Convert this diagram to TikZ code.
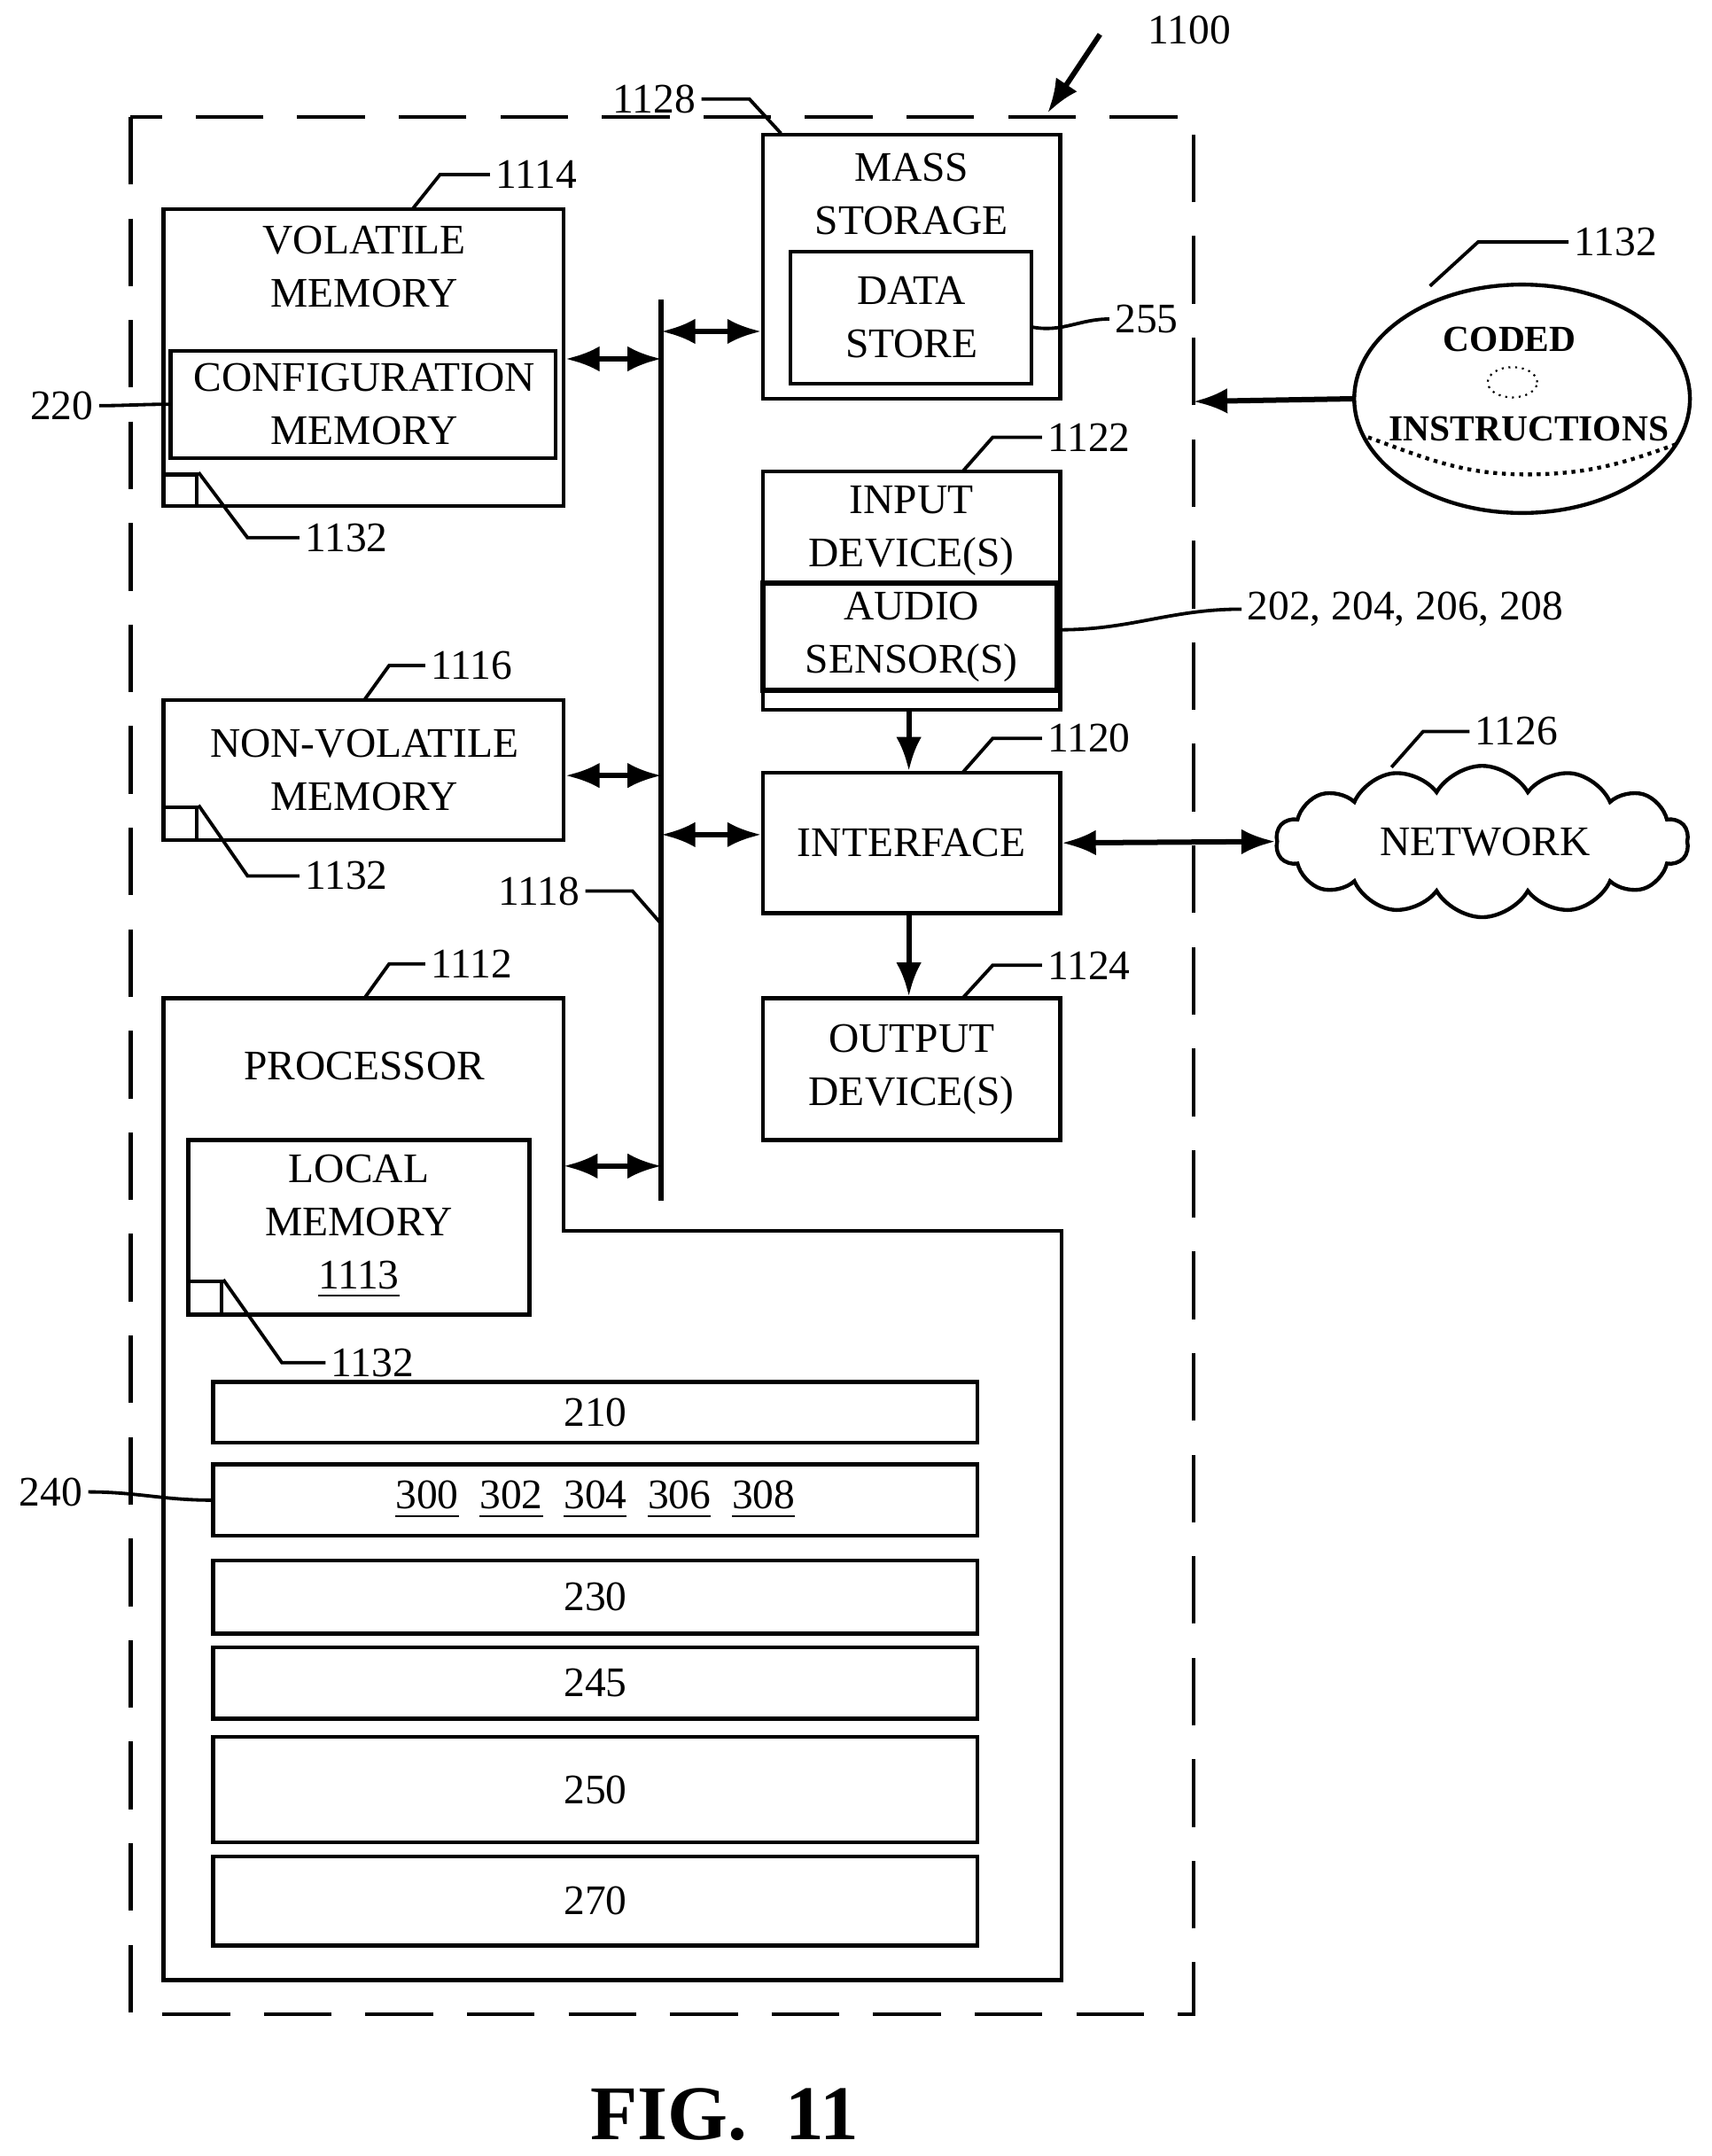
\documentclass[tikz,border=0pt]{standalone}
\usepackage{fontspec}
\setmainfont{Liberation Serif}
\usetikzlibrary{fit,shapes.symbols,shapes.geometric,arrows.meta}
\tikzset{
  box/.style={draw,line width=0.8pt,inner sep=0pt},
  txt/.style={align=center,font=\fontsize{8.7pt}{11pt}\selectfont,inner sep=0pt},
  num/.style={font=\fontsize{8.7pt}{11pt}\selectfont,inner sep=1pt},
  lead/.style={line width=0.7pt},
  dbl/.style={{Latex[length=7pt]}-{Latex[length=7pt]},line width=1.1pt},
  one/.style={-{Latex[length=7pt]},line width=1.1pt}
}
\begin{document}
\begin{tikzpicture}[x=0.01cm,y=-0.01cm]
\useasboundingbox (0,0) rectangle (1245,1568);
% outer boundary
\draw[dash pattern=on 14pt off 7pt,line width=0.8pt] (95,85) rectangle (868,1465);
\node[num] (n1100) at (865,22) {1100};
\coordinate (c1100) at (762,82);
\draw[one] (800,25) -- (c1100);
% volatile memory
\node[box,fit={(119,152)(410,368)}] (vol) {};
\node[txt] (voltxt) at (265,194) {VOLATILE\\MEMORY};
\node[box,fit={(124,255)(404,333)}] (cfg) {};
\node[txt] (cfgtxt) at (265,294) {CONFIGURATION\\MEMORY};
\node[box,fit={(119,345)(143,368)}] (sq1) {};
\node[num] (n1114) at (390,127) {1114};
\draw[lead] (300,152) -- (320,127) -- (n1114.west);
\node[num] (n220) at (45,295) {220};
\draw[lead] (n220.east) to[out=0,in=180] (cfg.west);
\node[num] (n1132a) at (252,391) {1132};
\draw[lead] (sq1.north east) -- (180,391) -- (n1132a.west);
% non-volatile memory
\node[box,fit={(119,509)(410,611)}] (nvol) {};
\node[txt] (nvoltxt) at (265,560) {NON-VOLATILE\\MEMORY};
\node[box,fit={(119,587)(143,611)}] (sq2) {};
\node[num] (n1116) at (343,484) {1116};
\draw[lead] (265,509) -- (283,484) -- (n1116.west);
\node[num] (n1132b) at (252,637) {1132};
\draw[lead] (sq2.north east) -- (180,637) -- (n1132b.west);
% processor
\draw[line width=0.8pt] (119,726) -- (410,726) -- (410,895) -- (772,895) -- (772,1440) -- (119,1440) -- cycle;
\coordinate (proc) at (410,848);
\node[txt] (proctxt) at (265,775) {PROCESSOR};
\node[num] (n1112) at (343,701) {1112};
\draw[lead] (265,726) -- (283,701) -- (n1112.west);
\node[box,fit={(137,829)(385,956)}] (lmem) {};
\node[txt] (lmemtxt) at (261,892) {LOCAL\\MEMORY\\\underline{1113}};
\node[box,fit={(137,932)(161,956)}] (sq3) {};
\node[num] (n1132c) at (271,991) {1132};
\draw[lead] (sq3.north east) -- (205,991) -- (n1132c.west);
% processor blocks
\node[box,fit={(155,1005)(711,1049)}] (b210) {};
\node[txt] at (b210) {210};
\node[box,fit={(155,1065)(711,1117)}] (b240) {};
\node[txt] at (b240) {\underline{300}\enspace\underline{302}\enspace\underline{304}\enspace\underline{306}\enspace\underline{308}};
\node[num] (n240) at (37,1085) {240};
\draw[lead] (n240.east) to[out=0,in=180] (b240.west);
\node[box,fit={(155,1135)(711,1188)}] (b230) {};
\node[txt] at (b230) {230};
\node[box,fit={(155,1198)(711,1250)}] (b245) {};
\node[txt] at (b245) {245};
\node[box,fit={(155,1263)(711,1340)}] (b250) {};
\node[txt] at (b250) {250};
\node[box,fit={(155,1350)(711,1415)}] (b270) {};
\node[txt] at (b270) {270};
% bus
\coordinate (bustop) at (481,218);
\coordinate (busbot) at (481,873);
\draw[line width=1.1pt] (bustop) -- (busbot);
\node[num] (n1118) at (392,648) {1118};
\draw[lead] (n1118.east) -- (460,648) -- (481,672);
% mass storage
\node[box,fit={(555,98)(771,290)}] (mass) {};
\node[txt] (masstxt) at (663,141) {MASS\\STORAGE};
\node[box,fit={(575,183)(750,279)}] (ds) {};
\node[txt] (dstxt) at (663,231) {DATA\\STORE};
\node[num] (n1128) at (476,72) {1128};
\draw[lead] (n1128.east) -- (545,72) -- (568,97);
\node[num] (n255) at (834,232) {255};
\draw[lead] (ds.east|-0,238) to[out=-10,in=180] (n255.west);
% input devices
\node[box,fit={(555,343)(771,516)}] (inp) {};
\node[txt] (inptxt) at (663,386) {INPUT\\DEVICE(S)};
\node[box,line width=1.2pt,fit={(555,424)(769,502)}] (aud) {};
\node[txt] (audtxt) at (663,463) {AUDIO\\SENSOR(S)};
\node[num] (n1122) at (792,318) {1122};
\draw[lead] (700,343) -- (722,318) -- (n1122.west);
\node[num] (n202) at (1022,443) {202, 204, 206, 208};
\draw[lead] (aud.east|-0,458) to[out=0,in=180] (n202.west);
% interface and output
\node[box,fit={(555,562)(771,664)}] (intf) {};
\node[txt] at (intf) {INTERFACE};
\node[num] (n1120) at (792,537) {1120};
\draw[lead] (700,562) -- (722,537) -- (n1120.west);
\node[box,fit={(555,726)(771,829)}] (outp) {};
\node[txt] at (outp) {OUTPUT\\DEVICE(S)};
\node[num] (n1124) at (792,702) {1124};
\draw[lead] (700,726) -- (722,702) -- (n1124.west);
% network
\node[cloud,draw,line width=0.8pt,cloud puffs=14,cloud puff arc=120,aspect=2.7,inner sep=0pt,minimum width=3.0cm,minimum height=1.1cm] (net) at (1078,612) {};
\node[txt] at (1080,612) {NETWORK};
\node[num] (n1126) at (1103,532) {1126};
\draw[lead] (1012,558) -- (1035,532) -- (n1126.west);
% coded instructions disk
\node[ellipse,draw,line width=0.8pt,inner sep=0pt,minimum width=2.44cm,minimum height=1.66cm] (disk) at (1107,290) {};
\draw[densely dotted,line width=0.8pt] (995,318) to[out=-20,in=180] (1110,345) to[out=0,in=200] (1222,322);
\node[draw,densely dotted,ellipse,minimum width=0.36cm,minimum height=0.22cm,inner sep=0pt] (hole) at (1100,278) {};
\node[txt,font=\fontsize{7.6pt}{9pt}\selectfont\bfseries] at (1098,247) {CODED};
\node[txt,font=\fontsize{7.6pt}{9pt}\selectfont\bfseries] at (1112,312) {INSTRUCTIONS};
\node[num] (n1132d) at (1175,176) {1132};
\draw[lead] (1040,208) -- (1075,176) -- (n1132d.west);
\coordinate (edge) at (868,292);
\draw[one] (disk.west) -- (edge);
% connections
\draw[dbl] (vol.east|-0,261) -- (481,261);
\draw[dbl] (481,241) -- (mass.west|-0,241);
\draw[dbl] (nvol.east|-0,564) -- (481,564);
\draw[dbl] (481,607) -- (intf.west|-0,607);
\draw[dbl] (proc) -- (481,848);
\draw[one] (inp.south-|661,0) -- (intf.north-|661,0);
\draw[one] (intf.south-|661,0) -- (outp.north-|661,0);
\draw[dbl] (intf.east) -- (net.west);
% caption
\node[font=\fontsize{16pt}{19pt}\selectfont\bfseries] (cap) at (527,1538) {FIG.\ \ 11};
\end{tikzpicture}
\end{document}
